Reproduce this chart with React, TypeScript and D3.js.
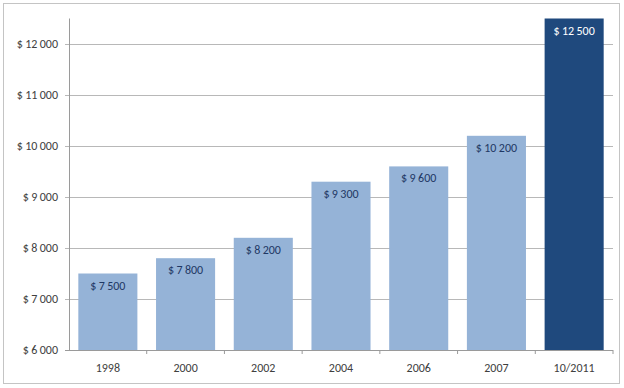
import React from "react";
import * as d3 from "d3";

const categories = ["1998", "2000", "2002", "2004", "2006", "2007", "10/2011"];
const values = [7500, 7800, 8200, 9300, 9600, 10200, 12500];
const highlight = [false, false, false, false, false, false, true];
const yTicks = [6000, 7000, 8000, 9000, 10000, 11000, 12000];

const W = 624;
const H = 388;
const left = 69;
const right = 613;
const top = 18.5;
const bottom = 350;

const fmt = (v: number) => {
  const s = String(v);
  const th = s.slice(0, s.length - 3);
  const rest = s.slice(s.length - 3);
  return "$\u2009" + th + "\u2009" + rest;
};

export default function App() {
  const x = d3.scaleBand<string>().domain(categories).range([left, right]).paddingInner(0.24).paddingOuter(0.12);
  const y = d3.scaleLinear().domain([6000, 12500]).range([bottom, top]);
  const font = "Carlito, 'Open Sans', 'Liberation Sans', sans-serif";
  const step = x.step();
  return (
    <svg width={W} height={H} style={{ position: "absolute", left: 0, top: 0, background: "#fff" }} fontFamily={font}>
      <rect x={3.5} y={3.5} width={616} height={380} fill="#fff" stroke="#c4c4c4" strokeWidth={1} />
      {yTicks.map((t) => (
        <g key={t}>
          <line x1={left - 4} x2={right} y1={Math.round(y(t)) + 0.5} y2={Math.round(y(t)) + 0.5} stroke={t === 6000 ? "#9a9a9a" : "#b8b8b8"} strokeWidth={1} />
          <text x={58} y={y(t) + 4} textAnchor="end" fontSize={12} fill="#404040">{fmt(t)}</text>
        </g>
      ))}
      <line x1={left + 0.5} x2={left + 0.5} y1={top} y2={bottom} stroke="#9a9a9a" />
      {categories.map((c, i) => (
        <line key={"tk" + i} x1={left + step * (i + 1)} x2={left + step * (i + 1)} y1={bottom} y2={bottom + 4} stroke="#9a9a9a" />
      ))}
      {categories.map((c, i) => {
        const bx = x(c)!;
        const by = y(values[i]);
        return (
          <g key={c}>
            <rect x={bx} y={by} width={x.bandwidth()} height={bottom - by} fill={highlight[i] ? "#1f497d" : "#95b3d7"} />
            <text x={bx + x.bandwidth() / 2} y={by + 16} textAnchor="middle" fontSize={12} fill={highlight[i] ? "#ffffff" : "#1f3864"}>{fmt(values[i])}</text>
            <text x={bx + x.bandwidth() / 2} y={372} textAnchor="middle" fontSize={12} fill="#404040">{c}</text>
          </g>
        );
      })}
    </svg>
  );
}
